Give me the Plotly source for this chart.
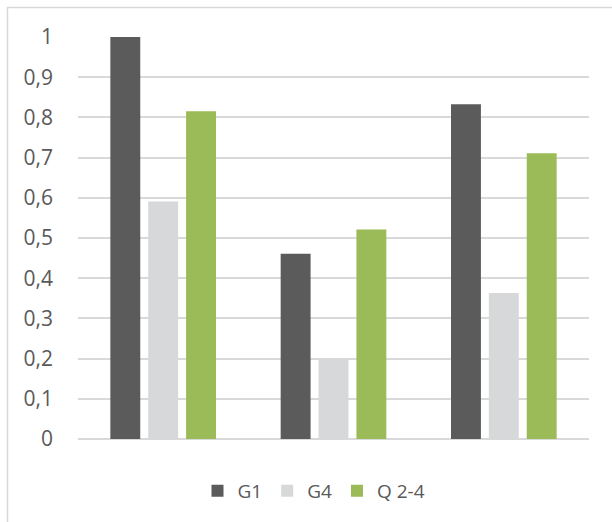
import plotly.graph_objects as go

categories = ["1", "2", "3"]
g1 = [1.0, 0.461, 0.833]
g4 = [0.591, 0.200, 0.363]
q24 = [0.815, 0.521, 0.711]
series_names = ["G1", "G4", "Q 2-4"]
colors = ["#5B5B5B", "#D7D8DA", "#9BBB59"]
y_ticks = [0, 0.1, 0.2, 0.3, 0.4, 0.5, 0.6, 0.7, 0.8, 0.9, 1]
y_tick_labels = ["0", "0,1", "0,2", "0,3", "0,4", "0,5", "0,6", "0,7", "0,8", "0,9", "1"]

W, H = 612, 522
L, R, T, B = 78, 23, 37, 83
pw, ph = W - L - R, H - T - B

fig = go.Figure()
for name, vals, col in zip(series_names, [g1, g4, q24], colors):
    fig.add_trace(go.Bar(x=categories, y=vals, name=name, marker=dict(color=col, line=dict(width=0))))

def px_x(p):
    return (p - L) / pw

def px_y(p):
    return (H - B - p) / ph

FONT = "'Open Sans', 'Noto Sans', sans-serif"

fig.update_layout(
    width=W, height=H,
    margin=dict(l=L, r=R, t=T, b=B, pad=0),
    paper_bgcolor="white", plot_bgcolor="white",
    barmode="group", bargap=0.333, bargroupgap=0.21,
    font=dict(family=FONT, size=21, color="#595959"),
    xaxis=dict(showticklabels=False, showgrid=False, zeroline=False, showline=False, ticks=""),
    yaxis=dict(range=[0, 1], tickvals=y_ticks, ticktext=y_tick_labels, showgrid=True,
               gridcolor="#D9D9D9", gridwidth=1.5, zeroline=True, zerolinecolor="#D9D9D9",
               zerolinewidth=1.5, showline=False, ticks="", ticklabelstandoff=24,
               tickfont=dict(family=FONT, size=21, color="#595959")),
    showlegend=True,
    legend=dict(orientation="h", x=px_x(314), xanchor="center", y=px_y(491), yanchor="middle",
                font=dict(family=FONT, size=19, color="#595959"), itemwidth=30,
                bgcolor="rgba(0,0,0,0)"),
    shapes=[dict(type="rect", xref="paper", yref="paper",
                 x0=px_x(7.5), x1=px_x(W + 20), y0=px_y(H + 20), y1=px_y(7.5),
                 line=dict(color="#D9D9D9", width=1.5), fillcolor="rgba(0,0,0,0)", layer="below")],
)

fig.write_html("out.html")
